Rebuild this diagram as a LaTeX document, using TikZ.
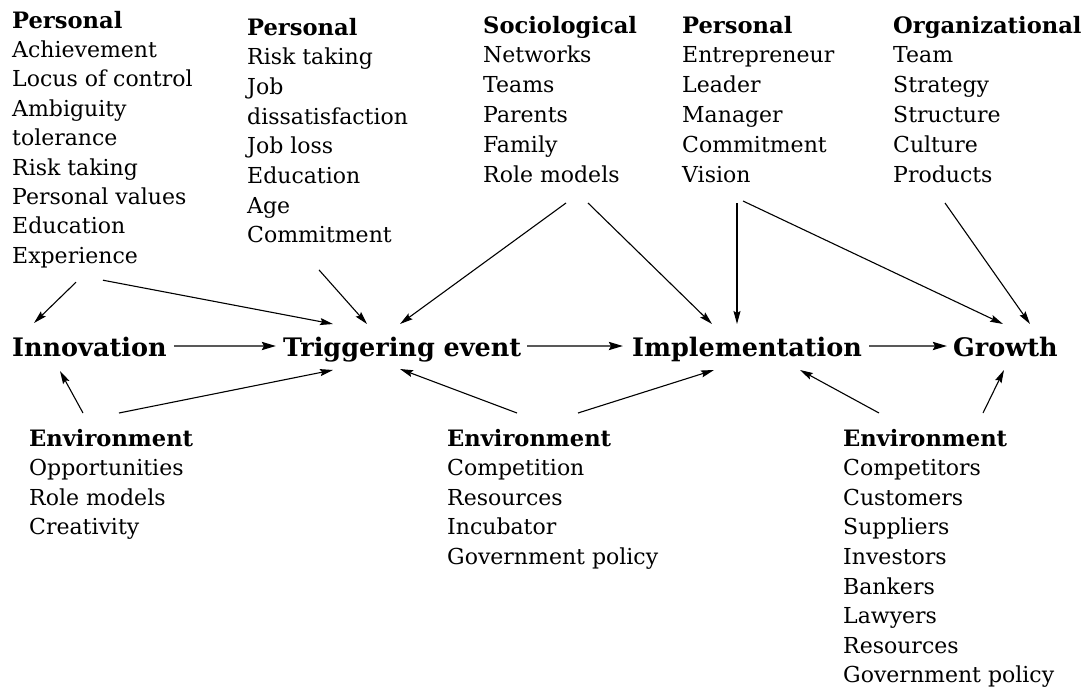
\documentclass[tikz,border=0pt]{standalone}
\usepackage{fontspec}
\setmainfont{DejaVu Serif}
\usetikzlibrary{arrows.meta}
\begin{document}
\begin{tikzpicture}[x=1pt,y=-1pt,
  item/.style={anchor=base west,inner sep=0pt,font=\fontsize{22}{24}\selectfont},
  head/.style={anchor=base west,inner sep=0pt,font=\fontsize{22.6}{24}\selectfont\bfseries},
  stage/.style={anchor=base west,inner sep=0pt,font=\fontsize{25.5}{28}\selectfont\bfseries},
  arr/.style={line width=1.1pt,-{Stealth[length=13pt,width=7pt,inset=2pt]}},
  flow/.style={line width=2.4pt,black!65,-{Stealth[length=14pt,width=8pt,inset=2pt,black]}}]
\useasboundingbox (0,0) rectangle (1085,691);

% top row: influence factors
\node[head] (pA) at (12,28) {Personal};
\foreach \t [count=\i] in {Achievement,Locus of control,Ambiguity,tolerance,Risk taking,Personal values,Education,Experience}
  \node[item] (pA-\i) at (12,{28+29.4*\i}) {\t};

\node[head] (pB) at (247,35) {Personal};
\foreach \t [count=\i] in {Risk taking,Job,dissatisfaction,Job loss,Education,Age,Commitment}
  \node[item] (pB-\i) at (247,{35+29.7*\i}) {\t};

\node[head] (soc) at (483,33) {Sociological};
\foreach \t [count=\i] in {Networks,Teams,Parents,Family,Role models}
  \node[item] (soc-\i) at (483,{33+29.8*\i}) {\t};

\node[head] (pC) at (682,33) {Personal};
\foreach \t [count=\i] in {Entrepreneur,Leader,Manager,Commitment,Vision}
  \node[item] (pC-\i) at (682,{33+29.8*\i}) {\t};

\node[head] (org) at (893,33) {Organizational};
\foreach \t [count=\i] in {Team,Strategy,Structure,Culture,Products}
  \node[item] (org-\i) at (893,{33+29.8*\i}) {\t};

% stages of the process
\node[stage] (inno) at (12,356) {Innovation};
\node[stage] (trig) at (283,356) {Triggering event};
\node[stage] (impl) at (632,356) {Implementation};
\node[stage] (grow) at (953,356) {Growth};

% bottom row: environment factors
\node[head] (envA) at (29,446) {Environment};
\foreach \t [count=\i] in {Opportunities,Role models,Creativity}
  \node[item] (envA-\i) at (29,{446+29.6*\i}) {\t};

\node[head] (envB) at (447,446) {Environment};
\foreach \t [count=\i] in {Competition,Resources,Incubator,Government policy}
  \node[item] (envB-\i) at (447,{446+29.6*\i}) {\t};

\node[head] (envC) at (843,446) {Environment};
\foreach \t [count=\i] in {Competitors,Customers,Suppliers,Investors,Bankers,Lawyers,Resources,Government policy}
  \node[item] (envC-\i) at (843,{446+29.6*\i}) {\t};

% main flow
\draw[flow] ([shift={(7,-10)}]inno.base east) -- ([shift={(-7,-10)}]trig.base west);
\draw[flow] ([shift={(6,-10)}]trig.base east) -- ([shift={(-9,-10)}]impl.base west);
\draw[flow] ([shift={(7,-10)}]impl.base east) -- ([shift={(-6,-10)}]grow.base west);

% influences from above
\draw[arr] ([shift={(64,19)}]pA-8.base west) -- ([shift={(22,-33)}]inno.base west);
\draw[arr] ([shift={(91,17)}]pA-8.base west) -- ([shift={(50,-32)}]trig.base west);
\draw[arr] ([shift={(72,27)}]pB-7.base west) -- ([shift={(84,-32)}]trig.base west);
\draw[arr] ([shift={(83,21)}]soc-5.base west) -- ([shift={(117,-32)}]trig.base west);
\draw[arr] ([shift={(105,21)}]soc-5.base west) -- ([shift={(80,-32)}]impl.base west);
\draw[arr] ([shift={(55,21)}]pC-5.base west) -- ([shift={(105,-32)}]impl.base west);
\draw[arr] ([shift={(61,19)}]pC-5.base west) -- ([shift={(50,-32)}]grow.base west);
\draw[arr] ([shift={(52,21)}]org-5.base west) -- ([shift={(77,-32)}]grow.base west);

% influences from below
\draw[arr] ([shift={(54,-33)}]envA.base west) -- ([shift={(48,15)}]inno.base west);
\draw[arr] ([shift={(90,-33)}]envA.base west) -- ([shift={(50,14)}]trig.base west);
\draw[arr] ([shift={(70,-33)}]envB.base west) -- ([shift={(117,13)}]trig.base west);
\draw[arr] ([shift={(131,-33)}]envB.base west) -- ([shift={(82,14)}]impl.base west);
\draw[arr] ([shift={(36,-33)}]envC.base west) -- ([shift={(168,14)}]impl.base west);
\draw[arr] ([shift={(140,-33)}]envC.base west) -- ([shift={(51,14)}]grow.base west);
\end{tikzpicture}
\end{document}
